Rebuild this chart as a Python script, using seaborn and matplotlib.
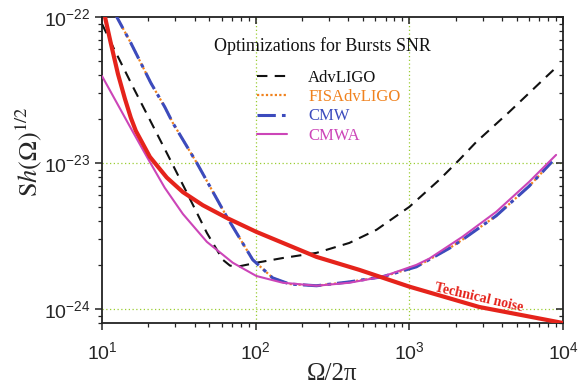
import numpy as np
import pandas as pd
import matplotlib
matplotlib.use("Agg")
import matplotlib.pyplot as plt
import seaborn as sns
from matplotlib.ticker import FixedLocator, NullFormatter

# Strain noise amplitude spectra, Sh(Omega)^(1/2) vs Omega/2pi [Hz]
freq_tech = [10.0, 10.46, 11.4, 12.7, 14.1, 15.4, 16.6, 20.5, 26.4, 33.6, 45.3, 64.9, 101, 249, 473, 1000, 2851, 10000]
tech_noise = [1.25e-22, 1.0e-22, 6.64e-23, 4.07e-23, 2.75e-23, 2.04e-23, 1.66e-23, 1.10e-23, 7.94e-24,
              6.31e-24, 5.13e-24, 4.2e-24, 3.37e-24, 2.27e-24, 1.85e-24, 1.42e-24, 1.03e-24, 8.0e-25]

freq_adv = [10, 11.8, 15.9, 20.5, 26.4, 35.7, 48.1, 61.1, 68.0, 75.3, 101, 150, 249, 407, 611, 1000,
            1567, 2113, 2723, 4457, 7870, 9000]
adv_ligo = [8.97e-23, 6.24e-23, 3.32e-23, 1.97e-23, 1.17e-23, 6.24e-24, 3.32e-24, 2.17e-24, 1.98e-24, 1.94e-24,
            2.07e-24, 2.23e-24, 2.42e-24, 2.83e-24, 3.48e-24, 5.0e-24, 7.66e-24, 1.05e-23, 1.39e-23,
            2.23e-23, 3.94e-23, 4.5e-23]

freq_cmw = [12.0, 15.4, 17.9, 20.8, 25.6, 28.9, 41.4, 64.9, 95.7, 129, 166, 249, 407, 668, 1110,
            1820, 2208, 3673, 6011, 8490]
cmw = [1.08e-22, 6.64e-23, 4.84e-23, 3.53e-23, 2.42e-23, 1.88e-23, 1.0e-23, 4.27e-24, 2.17e-24,
       1.63e-24, 1.48e-24, 1.44e-24, 1.53e-24, 1.66e-24, 1.94e-24, 2.60e-24, 2.97e-24, 4.34e-24,
       6.92e-24, 1.02e-23]
fis_adv = cmw  # FIS-optimised AdvLIGO coincides with CMW

freq_cmwa = [10, 15.4, 19.6, 25.6, 33.6, 48.1, 71, 101, 150, 249, 407, 668, 1110, 1349, 2208, 3673,
             6011, 9016]
cmwa = [3.94e-23, 1.73e-23, 1.10e-23, 6.76e-24, 4.47e-24, 2.88e-24, 2.07e-24, 1.68e-24, 1.51e-24,
        1.44e-24, 1.51e-24, 1.66e-24, 2.0e-24, 2.21e-24, 3.11e-24, 4.62e-24, 7.41e-24, 1.135e-23]

legend_labels = ["AdvLIGO", "FISAdvLIGO", "CMW", "CMWA"]

x_major = [10, 100, 1000, 10000]
y_major = [1e-24, 1e-23, 1e-22]

sns.set_theme(style="ticks")
plt.rcParams["font.family"] = ["Liberation Sans", "DejaVu Sans"]
plt.rcParams["mathtext.fontset"] = "stix"

c_red = "#e5231b"
c_black = "#111111"
c_orange = "#f0821e"
c_blue = "#3c4bbd"
c_mag = "#cc45b8"
c_grid = "#9acd32"

fig = plt.figure(figsize=(5.82, 3.91), dpi=100)
ax = fig.add_axes([102 / 582, 1 - 323 / 391, 461 / 582, 306 / 391])

ax.set_xscale("log")
ax.set_yscale("log")
ax.set_xlim(10, 1e4)
ax.set_ylim(8.0e-25, 1e-22)

for gx in [100, 1000]:
    ax.axvline(gx, color=c_grid, lw=0.9, ls=(0, (1, 2)), zorder=1)
for gy in [1e-23, 1e-24]:
    ax.axhline(gy, color=c_grid, lw=0.9, ls=(0, (1, 2)), zorder=1)

sns.lineplot(x=freq_adv, y=adv_ligo, ax=ax, color=c_black, lw=1.5, ls=(0, (5, 3.5)),
             estimator=None, sort=False, label=legend_labels[0], zorder=3)
sns.lineplot(x=freq_cmw, y=fis_adv, ax=ax, color=c_orange, lw=1.6, ls=(0, (1, 1)),
             estimator=None, sort=False, label=legend_labels[1], zorder=3)
sns.lineplot(x=freq_cmw, y=cmw, ax=ax, color=c_blue, lw=2.2, ls=(0, (6, 2, 1.2, 2)),
             estimator=None, sort=False, label=legend_labels[2], zorder=4)
sns.lineplot(x=freq_cmwa, y=cmwa, ax=ax, color=c_mag, lw=1.5, ls="-",
             estimator=None, sort=False, label=legend_labels[3], zorder=5)
sns.lineplot(x=freq_tech, y=tech_noise, ax=ax, color=c_red, lw=3.0, ls="-",
             estimator=None, sort=False, zorder=6)

ax.text(2850, 1.19e-24, "Technical noise", color=c_red, fontsize=10, fontweight="bold",
        family="Liberation Serif", rotation=-13, ha="center", va="center", zorder=7)

ax.text(0.478, 0.905, "Optimizations for Bursts SNR", transform=ax.transAxes, ha="center", va="center",
        fontsize=13, family="Liberation Serif", color="#111111")
leg = ax.legend(loc="upper left", bbox_to_anchor=(0.31, 0.866), frameon=False,
                prop={"family": "Liberation Serif", "size": 12}, handlelength=1.8,
                handletextpad=1.3, labelspacing=0.2, borderpad=0.2, labelcolor="linecolor")

# axis labels
ax.set_xlabel("Ω/2π", family="Liberation Serif", fontsize=18, labelpad=0)
ax.set_ylabel(r"$\mathrm{S}h(\Omega)^{1/2}$", fontsize=19)
ax.yaxis.set_label_coords(-0.125, 0.56)

minor_x = [m * 10 ** e for e in range(1, 4) for m in range(2, 10)]
minor_y = [m * 10.0 ** e for e in (-25, -24, -23) for m in range(2, 10) if 8.0e-25 <= m * 10.0 ** e <= 1e-22]
ax.xaxis.set_major_locator(FixedLocator(x_major))
ax.xaxis.set_minor_locator(FixedLocator(minor_x))
ax.xaxis.set_minor_formatter(NullFormatter())
ax.yaxis.set_major_locator(FixedLocator(y_major))
ax.yaxis.set_minor_locator(FixedLocator(minor_y))
ax.yaxis.set_minor_formatter(NullFormatter())
ax.tick_params(which="major", direction="out", length=5, width=1.1, labelsize=14, color="#222222")
ax.tick_params(which="minor", direction="out", length=3, width=0.9, color="#222222")
ax.tick_params(axis="x", pad=8)

for s in ax.spines.values():
    s.set_linewidth(1.3)
    s.set_color("#222222")

# mirrored ticks pointing inward on top and right
axt = ax.twiny()
axt.set_xscale("log")
axt.set_xlim(ax.get_xlim())
axt.xaxis.set_major_locator(FixedLocator(x_major))
axt.xaxis.set_minor_locator(FixedLocator(minor_x))
axt.tick_params(which="both", direction="in", labeltop=False, top=True, color="#222222")
axt.tick_params(which="major", length=5, width=1.1)
axt.tick_params(which="minor", length=3, width=0.9)
axr = ax.twinx()
axr.set_yscale("log")
axr.set_ylim(ax.get_ylim())
axr.yaxis.set_major_locator(FixedLocator(y_major))
axr.yaxis.set_minor_locator(FixedLocator(minor_y))
axr.tick_params(which="both", direction="in", labelright=False, right=True, color="#222222")
axr.tick_params(which="major", length=5, width=1.1)
axr.tick_params(which="minor", length=3, width=0.9)
for a in (axt, axr):
    for s in a.spines.values():
        s.set_visible(False)

fig.savefig("out.png", dpi=100)
